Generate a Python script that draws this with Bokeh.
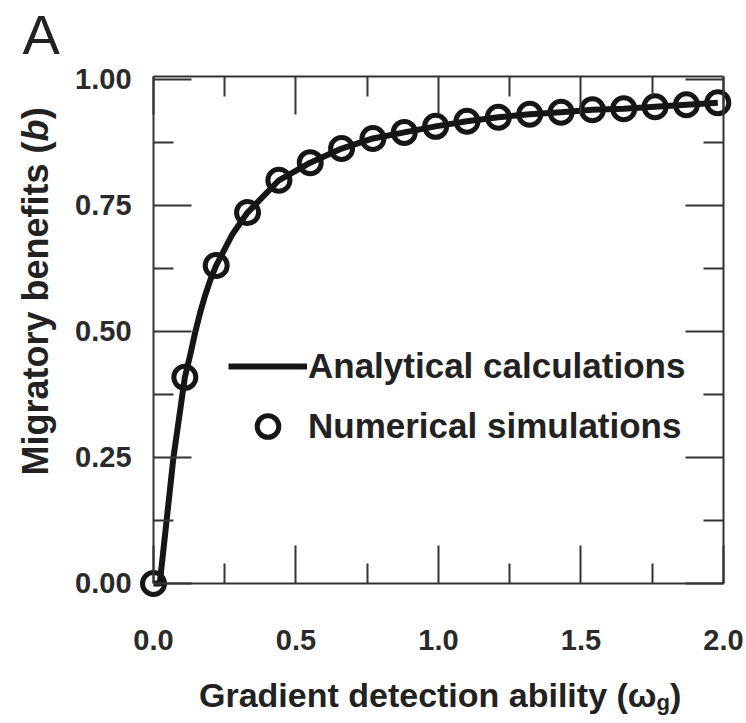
import math
from bokeh.plotting import figure
from bokeh.core.properties import value
from bokeh.models import (Range1d, LinearAxis, FixedTicker, CustomJSTickFormatter,
                          Legend, LegendItem, Label, LabelSet, ColumnDataSource)
from bokeh.embed import file_html
from bokeh.resources import INLINE

# ---- data ----
sim_x = [0.0, 0.11, 0.22, 0.33, 0.44, 0.55, 0.66, 0.77, 0.88, 0.99,
         1.10, 1.21, 1.32, 1.43, 1.54, 1.65, 1.76, 1.87, 1.98]
sim_y = [0.0, 0.409, 0.631, 0.736, 0.800, 0.835, 0.863, 0.883, 0.895, 0.907,
         0.917, 0.925, 0.931, 0.935, 0.940, 0.942, 0.946, 0.950, 0.954]

ana_x = [0.0, 0.022, 0.07, 0.11, 0.130, 0.147, 0.165, 0.182, 0.200, 0.22,
         0.277, 0.33, 0.44, 0.55, 0.66, 0.77, 0.88, 0.99, 1.10, 1.21, 1.32,
         1.43, 1.54, 1.65, 1.76, 1.87, 1.98]
ana_y = [0.0, 0.0, 0.25, 0.409, 0.456, 0.500, 0.540, 0.573, 0.603, 0.631,
         0.693, 0.736, 0.800, 0.835, 0.863, 0.883, 0.895, 0.907, 0.917, 0.925,
         0.931, 0.935, 0.940, 0.942, 0.946, 0.950, 0.954]

x_ticks = [0.0, 0.5, 1.0, 1.5, 2.0]
x_tick_labels = ["0.0", "0.5", "1.0", "1.5", "2.0"]
x_minor = [0.25, 0.75, 1.25, 1.75]
y_ticks = [0.0, 0.25, 0.5, 0.75, 1.0]
y_tick_labels = ["0.00", "0.25", "0.50", "0.75", "1.00"]
y_minor = [0.125, 0.375, 0.625, 0.875]

legend_labels = ["Analytical calculations", "Numerical simulations"]
x_title = "Gradient detection ability (\u03c9"
x_title_sub = "g"
y_title = "Migratory benefits ("
y_title_it = "b"
panel_letter = "A"

FONT = "Liberation Sans"
INK = "#161616"
AXC = "#333333"
TC = "#222222"

X0, X1 = 0.0, 2.0
Y0, Y1 = 0.0, 1.006

# The frame fills the whole canvas so that nothing is clipped.
p = figure(width=746, height=723,
           x_range=Range1d(-0.5368, 2.0807), y_range=Range1d(-0.2778, 1.1567),
           x_axis_type=None, y_axis_type=None,
           output_backend="svg", toolbar_location=None,
           min_border_left=0, min_border_right=0,
           min_border_top=0, min_border_bottom=0)
p.outline_line_color = None
p.background_fill_color = "white"
p.border_fill_color = "white"

blank = CustomJSTickFormatter(code="return ''")


def style(ax):
    ax.axis_line_color = AXC
    ax.axis_line_width = 2
    ax.major_tick_line_color = AXC
    ax.minor_tick_line_color = AXC
    ax.major_tick_line_width = 2
    ax.minor_tick_line_width = 2
    ax.major_tick_in = 38
    ax.major_tick_out = 0
    ax.minor_tick_in = 20
    ax.minor_tick_out = 0
    ax.formatter = blank
    ax.major_label_text_font_size = "1px"
    ax.major_label_standoff = 0


xt = FixedTicker(ticks=x_ticks, minor_ticks=x_minor)
yt = FixedTicker(ticks=y_ticks, minor_ticks=y_minor)

bottom = LinearAxis(ticker=xt, fixed_location=Y0, bounds=(X0, X1))
top = LinearAxis(ticker=xt, fixed_location=Y1, bounds=(X0, X1))
left = LinearAxis(ticker=yt, fixed_location=X0, bounds=(Y0, Y1))
right = LinearAxis(ticker=yt, fixed_location=X1, bounds=(Y0, Y1))
for ax in (bottom, top, left, right):
    style(ax)
p.add_layout(bottom, "below")
p.add_layout(top, "above")
p.add_layout(left, "left")
p.add_layout(right, "right")

# tick labels, placed through the data scales at the tick values
xlab_src = ColumnDataSource(dict(x=x_ticks, y=[-0.113] * len(x_ticks),
                                 text=x_tick_labels))
ylab_src = ColumnDataSource(dict(x=[-0.077] * len(y_ticks), y=y_ticks,
                                 text=y_tick_labels))
for src, align in ((xlab_src, "center"), (ylab_src, "right")):
    p.add_layout(LabelSet(source=src, x="x", y="y", text="text",
                          text_align=align, text_baseline="middle",
                          text_font=value(FONT), text_font_style="bold",
                          text_font_size="29px", text_color="#2a2a2a"))

ln = p.line(ana_x, ana_y, line_color=INK, line_width=6, line_join="round")
sc = p.scatter(sim_x, sim_y, marker="circle", size=22, fill_color=None,
               line_color=INK, line_width=5)

legend = Legend(items=[LegendItem(label=legend_labels[0], renderers=[ln]),
                       LegendItem(label=legend_labels[1], renderers=[sc])],
                location=(228, 270), orientation="vertical",
                glyph_width=79, glyph_height=54, label_standoff=1,
                spacing=6, padding=0, margin=0,
                border_line_color=None, background_fill_alpha=0,
                label_text_font=FONT, label_text_font_style="bold",
                label_text_font_size="35px", label_text_color=TC)
p.add_layout(legend, "center")

# Axis titles and panel letter
XP = 1.765
XB = -0.222
p.add_layout(Label(x=XP, y=XB, text=x_title, text_align="right",
                   text_baseline="alphabetic", text_font=FONT,
                   text_font_style="bold", text_font_size="34px",
                   text_color=TC))
p.add_layout(Label(x=XP, y=XB - 0.015, text=x_title_sub, text_align="left",
                   text_baseline="alphabetic", text_font=FONT,
                   text_font_style="bold", text_font_size="22px",
                   text_color=TC))
p.add_layout(Label(x=XP + 0.047, y=XB, text=")", text_align="left",
                   text_baseline="alphabetic", text_font=FONT,
                   text_font_style="bold", text_font_size="34px",
                   text_color=TC))

YX = -0.414
YP = 0.877
p.add_layout(Label(x=YX, y=YP, text=y_title, text_align="right",
                   text_baseline="middle", angle=math.pi / 2, text_font=FONT,
                   text_font_style="bold", text_font_size="36px",
                   text_color=TC))
p.add_layout(Label(x=YX, y=YP, text=y_title_it, text_align="left",
                   text_baseline="middle", angle=math.pi / 2, text_font=FONT,
                   text_font_style="bold italic", text_font_size="36px",
                   text_color=TC))
p.add_layout(Label(x=YX, y=YP + 0.044, text=")", text_align="left",
                   text_baseline="middle", angle=math.pi / 2, text_font=FONT,
                   text_font_style="bold", text_font_size="36px",
                   text_color=TC))

p.add_layout(Label(x=-0.46, y=1.090, text=panel_letter, text_align="left",
                   text_baseline="alphabetic", text_font=FONT,
                   text_font_style="normal", text_font_size="56px",
                   text_color=TC))

open("out.html", "w").write(file_html(p, INLINE))
